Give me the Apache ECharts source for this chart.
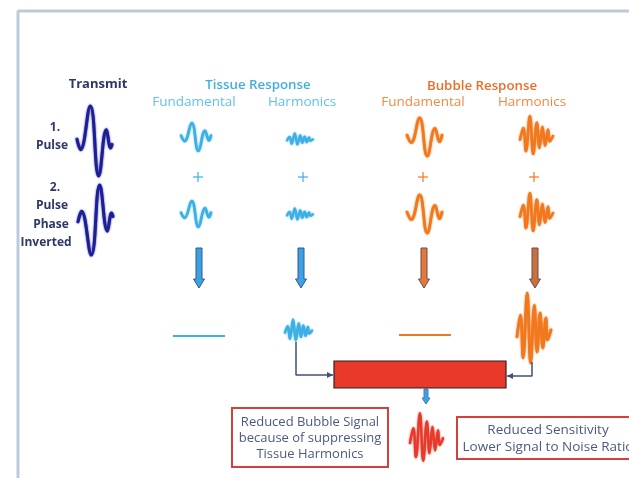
<!DOCTYPE html>
<html><head><meta charset="utf-8">
<script src="https://cdn.jsdelivr.net/npm/echarts@6/dist/echarts.min.js"></script>
<style>html,body{margin:0;padding:0;background:#fff}#c{width:629px;height:478px}</style>
</head><body><div id="c"></div>
<script>
// ---------- data ----------
const headers = ['Transmit', 'Tissue Response', 'Bubble Response'];
const subHeaders = ['Fundamental', 'Harmonics', 'Fundamental', 'Harmonics'];
const rowLabels = ['1.', 'Pulse', '2.', 'Pulse', 'Phase', 'Inverted'];
const leftNote = ['Reduced Bubble Signal', 'because of suppressing', 'Tissue Harmonics'];
const rightNote = ['Reduced Sensitivity', 'Lower Signal to Noise Ratio'];
// waveform shapes: [time 0..1, amplitude -1..1]
const transmitShape = [[0,0.05],[0.1,-0.25],[0.38,1],[0.62,-1],[0.84,0.32],[0.96,-0.2],[1,-0.1]];
const fundamentalShape = [[0,0.1],[0.12,-0.3],[0.36,1],[0.58,-1],[0.8,0.45],[0.93,-0.25],[1,0.1]];
const harmonicShape = [[0,-0.24],[0.1,0.35],[0.18,-0.81],[0.3,0.95],[0.4,-0.95],[0.51,0.62],[0.59,-0.65],[0.68,0.41],[0.76,-0.54],[0.85,0.27],[0.9,-0.32],[1,-0.05]];

// ---------- layout / styles ----------
const NAVY = '#1c1f96', TXT_NAVY = '#2e3868', BLUE = '#3cb0e6', BLUE_T = '#45ade0', BLUE_S = '#63c0ea',
      ORANGE = '#f2781e', ORANGE_T = '#ea6f2a', ORANGE_S = '#f08a42', RED = '#e9392b', LINK = '#415078';
const FONT = '"Open Sans", "DejaVu Sans", sans-serif';

const waves = [
  {shape: transmitShape, x0: 77, x1: 112, yc: 141, amp: 35, sign: 1, color: NAVY, w: 3},
  {shape: transmitShape, x0: 78, x1: 113, yc: 220, amp: 35, sign: -1, color: NAVY, w: 3},
  {shape: fundamentalShape, x0: 181, x1: 211, yc: 137, amp: 14, sign: 1, color: BLUE, w: 2.6},
  {shape: fundamentalShape, x0: 181, x1: 211, yc: 214, amp: 13, sign: 1, color: BLUE, w: 2.6},
  {shape: harmonicShape, x0: 287, x1: 313, yc: 139, amp: 6, sign: 1, color: BLUE, w: 2.2},
  {shape: harmonicShape, x0: 287, x1: 313, yc: 214, amp: 6, sign: 1, color: BLUE, w: 2.2},
  {shape: fundamentalShape, x0: 407, x1: 442, yc: 137, amp: 19, sign: 1, color: ORANGE, w: 2.8},
  {shape: fundamentalShape, x0: 407, x1: 442, yc: 214, amp: 19, sign: 1, color: ORANGE, w: 2.8},
  {shape: harmonicShape, x0: 520, x1: 553, yc: 135, amp: 20, sign: 1, color: ORANGE, w: 2.6},
  {shape: harmonicShape, x0: 520, x1: 553, yc: 212, amp: 20, sign: 1, color: ORANGE, w: 2.6},
  {shape: harmonicShape, x0: 285, x1: 312, yc: 330, amp: 11, sign: 1, color: BLUE, w: 2.4},
  {shape: harmonicShape, x0: 517, x1: 551, yc: 328, amp: 37, sign: 1, color: ORANGE, w: 2.8},
  {shape: harmonicShape, x0: 410, x1: 443, yc: 437, amp: 25, sign: 1, color: RED, w: 2.4}
];
const flatLines = [
  {x0: 173, x1: 225, y: 336, color: BLUE},
  {x0: 399, x1: 451, y: 335, color: ORANGE}
];
const headerPos = [[98, 84, TXT_NAVY], [258, 85, BLUE_T], [482, 86, ORANGE_T]];
const subPos = [[194, 102, BLUE_S], [302, 102, BLUE_S], [423, 102, ORANGE_S], [532, 102, ORANGE_S]];
const rowPos = [[55, 128], [52, 146], [55, 188], [52, 206], [51, 225], [46, 243]];
const plusPos = [[198, 177, BLUE], [303, 177, BLUE], [423, 177, ORANGE], [534, 177, ORANGE]];
const arrowPos = [
  {x: 199, y0: 248, y1: 288, fill: '#3e9fe2', stroke: '#2c5c8c', sw: 3, hw: 5.5, hl: 9},
  {x: 301, y0: 248, y1: 288, fill: '#3e9fe2', stroke: '#2c5c8c', sw: 3, hw: 5.5, hl: 9},
  {x: 424, y0: 248, y1: 288, fill: '#e4783a', stroke: '#6e4a48', sw: 3, hw: 5.5, hl: 9},
  {x: 535, y0: 248, y1: 288, fill: '#c8703e', stroke: '#6e4a48', sw: 3, hw: 5.5, hl: 9},
  {x: 426, y0: 389, y1: 404, fill: '#3e9fe2', stroke: '#3e7fc0', sw: 2, hw: 4, hl: 6}
];
const links = [
  {pts: [[296, 342], [296, 375], [333, 375]], dir: 1},
  {pts: [[532, 362], [532, 376], [507, 376]], dir: -1}
];

const chart = echarts.init(document.getElementById('c'), null, {renderer: 'canvas'});
const series = [];

// frame
series.push({type: 'line', data: [[18, 478], [18, 11], [629, 11]], symbol: 'none', silent: true,
  lineStyle: {color: '#bccbdc', width: 3}});

// waveforms
waves.forEach(w => {
  series.push({type: 'line', smooth: 0.45, symbol: 'none', silent: true,
    data: w.shape.map(p => [w.x0 + p[0] * (w.x1 - w.x0), w.yc - w.sign * p[1] * w.amp]),
    lineStyle: {color: w.color, width: w.w, cap: 'round', join: 'round', shadowColor: w.color, shadowBlur: 2}});
});
flatLines.forEach(f => {
  series.push({type: 'line', symbol: 'none', silent: true, data: [[f.x0, f.y], [f.x1, f.y]],
    lineStyle: {color: f.color, width: 2}});
});
// connectors
links.forEach(l => {
  series.push({type: 'line', symbol: 'none', silent: true, data: l.pts, lineStyle: {color: LINK, width: 1.5}});
});

// shapes via custom series
series.push({
  type: 'custom', silent: true,
  data: [[0, 0]],
  renderItem: (params, api) => {
    const ch = [];
    // plus signs
    plusPos.forEach(p => {
      const c = api.coord([p[0], p[1]]);
      ch.push({type: 'line', shape: {x1: c[0] - 5, y1: c[1], x2: c[0] + 5, y2: c[1]}, style: {stroke: p[2], lineWidth: 1.2}});
      ch.push({type: 'line', shape: {x1: c[0], y1: c[1] - 5, x2: c[0], y2: c[1] + 5}, style: {stroke: p[2], lineWidth: 1.2}});
    });
    // block arrows
    arrowPos.forEach(a => {
      const t = api.coord([a.x, a.y0]), b = api.coord([a.x, a.y1]);
      const hy = b[1] - a.hl;
      ch.push({type: 'polygon', shape: {points: [
        [t[0] - a.sw, t[1]], [t[0] + a.sw, t[1]], [t[0] + a.sw, hy], [t[0] + a.hw, hy],
        [b[0], b[1]], [t[0] - a.hw, hy], [t[0] - a.sw, hy]]},
        style: {fill: a.fill, stroke: a.stroke, lineWidth: 1}});
    });
    // connector arrowheads
    links.forEach(l => {
      const e = api.coord(l.pts[l.pts.length - 1]);
      ch.push({type: 'polygon', shape: {points: [[e[0], e[1]], [e[0] - 6 * l.dir, e[1] - 3], [e[0] - 6 * l.dir, e[1] + 3]]},
        style: {fill: LINK}});
    });
    // red combining block
    const r0 = api.coord([334, 361]), r1 = api.coord([506, 388]);
    ch.push({type: 'rect', shape: {x: r0[0], y: r0[1], width: r1[0] - r0[0], height: r1[1] - r0[1]},
      style: {fill: RED, stroke: '#2a2222', lineWidth: 1.2}});
    // note boxes
    const bl0 = api.coord([232, 408]), bl1 = api.coord([388, 467]);
    ch.push({type: 'rect', shape: {x: bl0[0], y: bl0[1], width: bl1[0] - bl0[0], height: bl1[1] - bl0[1]},
      style: {fill: '#fff', stroke: '#d4403c', lineWidth: 2}});
    const br0 = api.coord([457, 417]), br1 = api.coord([640, 459]);
    ch.push({type: 'rect', shape: {x: br0[0], y: br0[1], width: br1[0] - br0[0], height: br1[1] - br0[1]},
      style: {fill: '#fff', stroke: '#d4403c', lineWidth: 2}});
    // texts
    const txt = (s, x, y, color, font) => {
      const c = api.coord([x, y]);
      ch.push({type: 'text', x: c[0], y: c[1], style: {text: s, fill: color, font: font, align: 'center', verticalAlign: 'middle'}});
    };
    headers.forEach((h, i) => txt(h, headerPos[i][0], headerPos[i][1], headerPos[i][2], (i === 0 ? 'bold 13px ' : '600 13.3px ') + FONT));
    subHeaders.forEach((h, i) => txt(h, subPos[i][0], subPos[i][1], subPos[i][2], '13.5px ' + FONT));
    rowLabels.forEach((h, i) => txt(h, rowPos[i][0], rowPos[i][1], TXT_NAVY, 'bold 12px ' + FONT));
    leftNote.forEach((h, i) => txt(h, 310, 422 + i * 16, '#4b5a82', '13px ' + FONT));
    rightNote.forEach((h, i) => txt(h, 548, 430 + i * 17, '#4b5a82', '13.5px ' + FONT));
    return {type: 'group', children: ch};
  }
});

chart.setOption({
  animation: false,
  grid: {left: 0, right: 0, top: 0, bottom: 0},
  xAxis: {type: 'value', min: 0, max: 629, show: false},
  yAxis: {type: 'value', min: 0, max: 478, inverse: true, show: false},
  series: series
});
</script>
</body></html>
